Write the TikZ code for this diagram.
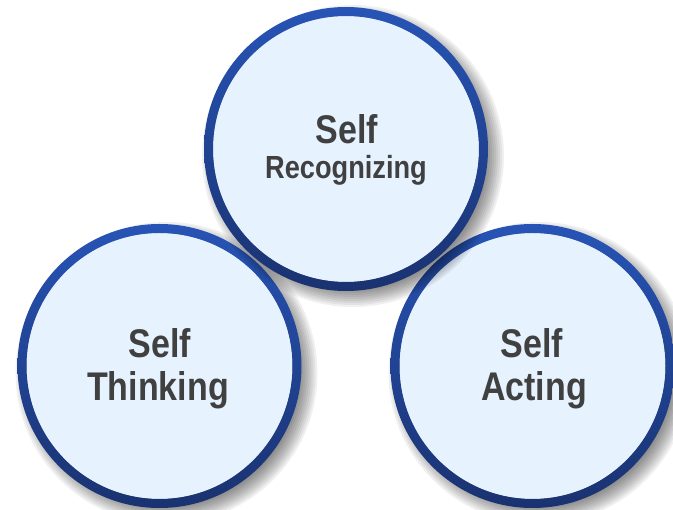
\documentclass[tikz,border=0pt]{standalone}
\usepackage{fontspec}
\newfontfamily\lbl{Liberation Sans}[FakeStretch=0.85]
\definecolor{fillc}{HTML}{E6F2FE}
\definecolor{ringtop}{HTML}{2754B6}
\definecolor{ringbot}{HTML}{1A3270}
\definecolor{txt}{HTML}{404040}
\tikzset{
  bubble/.style={circle, minimum size=266pt, inner sep=0pt, fill=fillc},
  bigtxt/.style={font=\lbl\bfseries\fontsize{40}{44}\selectfont, text=txt, anchor=base, inner sep=0pt},
  smalltxt/.style={font=\lbl\bfseries\fontsize{32}{36}\selectfont, text=txt, anchor=base, inner sep=0pt},
}
\newcommand\drawbubble[3]{%
  \foreach \i in {0,...,9}
    \fill[black, opacity=0.06] ({#2+7},{#3+7}) circle[radius={(151-2*\i)*1pt}];
  \node[bubble] (#1) at (#2,#3) {};
  \shade[top color=ringtop, bottom color=ringbot, even odd rule]
    (#1.center) circle[radius=142pt] (#1.center) circle[radius=133pt];
}
\begin{document}
\begin{tikzpicture}[x=1pt,y=-1pt]
  \useasboundingbox (0,0) rectangle (673,510);
  \clip (0,0) rectangle (673,510);
  \drawbubble{think}{159.5}{366}
  \drawbubble{act}{532.5}{366}
  \drawbubble{recog}{346}{149}
  \node[bigtxt] (rs) at (347,144) {Self};
  \node[smalltxt] (rr) at (346,179) {Recognizing};
  \node[bigtxt] (ts) at (160,358) {Self};
  \node[bigtxt] (tt) at (158,401) {Thinking};
  \node[bigtxt] (as) at (532,358) {Self};
  \node[bigtxt] (aa) at (534,401) {Acting};
\end{tikzpicture}
\end{document}
